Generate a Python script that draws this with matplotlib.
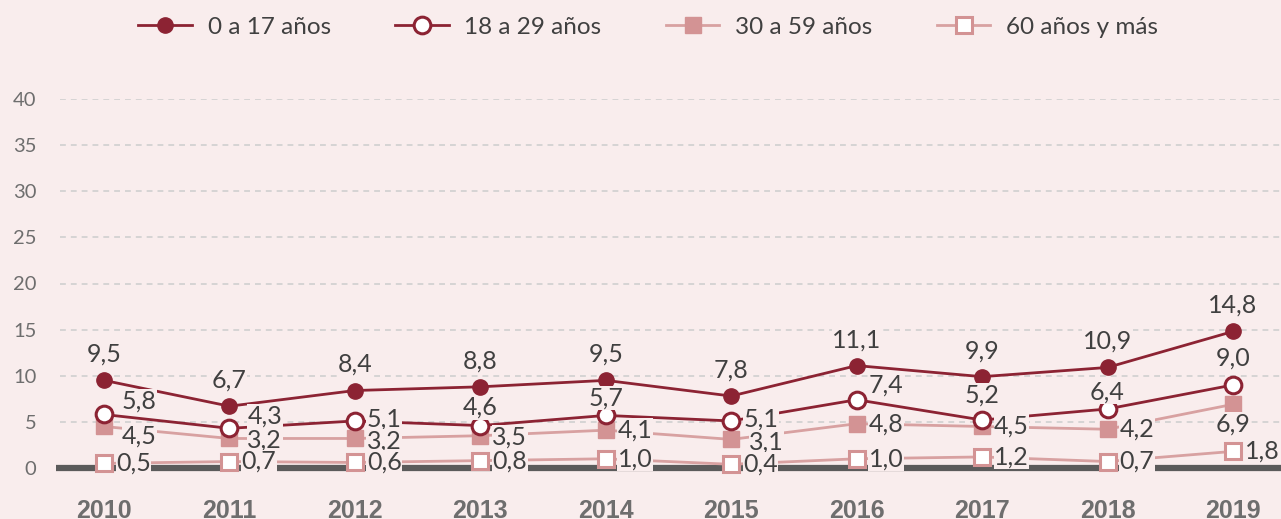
import matplotlib
matplotlib.use('Agg')
import matplotlib.pyplot as plt
from matplotlib.lines import Line2D

# ======================================================================
# Data
# ======================================================================

years = [2010, 2011, 2012, 2013, 2014, 2015, 2016, 2017, 2018, 2019]
series_names = ['0 a 17 años', '18 a 29 años', '30 a 59 años', '60 años y más']
age_0_17 = [9.5, 6.7, 8.4, 8.8, 9.5, 7.8, 11.1, 9.9, 10.9, 14.8]
age_18_29 = [5.8, 4.3, 5.1, 4.6, 5.7, 5.1, 7.4, 5.2, 6.4, 9.0]
age_30_59 = [4.5, 3.2, 3.2, 3.5, 4.1, 3.1, 4.8, 4.5, 4.2, 6.9]
age_60 = [0.5, 0.7, 0.6, 0.8, 1.0, 0.4, 1.0, 1.2, 0.7, 1.8]
yticks = [0, 5, 10, 15, 20, 25, 30, 35, 40]

# label offsets in pixels (dx, dy), dy positive = up
off_0_17 = [(0, 26)] * 10
off_18_29 = [(31, 13), (31, 12), (25, 2), (0, 18), (0, 17),
             (25, 2), (25, 15), (0, 25), (0, 17), (0, 27)]
off_30_59 = [(31, -10), (31, -2), (25, -3), (25, -1), (25, 0),
             (31, -3), (25, 0), (25, 0), (25, 0), (0, -20)]
off_60 = [(25, 0)] * 10

BG = '#f9eded'
DARK = '#8c2333'
PINK = '#d39394'
PINK_LINE = '#d8a1a1'
TXT = '#404040'

plt.rcParams['font.family'] = ['Lato', 'DejaVu Sans']

fig = plt.figure(figsize=(12.81, 5.19), dpi=100, facecolor=BG)
ax = fig.add_axes([60 / 1281, 51 / 519, 1221 / 1281, 369 / 519])
ax.set_facecolor(BG)
ax.set_xlim(2009.649, 2019.383)
ax.set_ylim(0, 40)

for y in yticks[1:]:
    ax.axhline(y, color='#cfcfcf', lw=1.2, dashes=(3.5, 3), zorder=1)
ax.plot([2009.62, 2019.383], [0, 0], color='#5b5b5b', lw=4.5,
        solid_capstyle='butt', zorder=2, clip_on=False)

styles = [
    dict(color=DARK, marker='o', ms=11, mfc=DARK, mec=DARK, lw=2.0),
    dict(color=DARK, marker='o', ms=12, mfc='white', mec=DARK, mew=2.2, lw=2.0),
    dict(color=PINK_LINE, marker='s', ms=12, mfc=PINK, mec=PINK, lw=2.0),
    dict(color=PINK_LINE, marker='s', ms=12, mfc='white', mec=PINK, mew=2.2, lw=2.0),
]
all_vals = [age_0_17, age_18_29, age_30_59, age_60]
all_offs = [off_0_17, off_18_29, off_30_59, off_60]

for i in range(3, -1, -1):
    ax.plot(years, all_vals[i], zorder=3 + (3 - i), clip_on=False, **styles[i])

for vals, offs in zip(all_vals, all_offs):
    for x, v, (dx, dy) in zip(years, vals, offs):
        ha = 'left' if dx > 5 else 'center'
        ax.annotate('{:.1f}'.format(v).replace('.', ','), (x, v),
                    xytext=(dx - 13 if ha == 'left' else dx, dy),
                    textcoords='offset pixels', ha=ha, va='center',
                    fontsize=18, color=TXT, zorder=10,
                    bbox=dict(boxstyle='square,pad=0.02', fc=BG, ec='none'))

ax.set_yticks(yticks)
ax.set_yticklabels([str(t) for t in yticks], color='#6e6e6e', fontsize=14.5)
ax.set_xticks(years)
ax.set_xticklabels([str(y) for y in years], color='#6e6e6e', fontsize=18,
                   fontweight='bold', family='Liberation Sans')
ax.tick_params(axis='y', length=0, pad=17)
ax.tick_params(axis='x', length=0, pad=22)
for s in ax.spines.values():
    s.set_visible(False)

handles = [Line2D([], [], **st) for st in styles]
fig.legend(handles, series_names, loc='upper center', ncol=4,
           bbox_to_anchor=(0.506, 1.01), frameon=False, fontsize=17.5,
           handlelength=2.2, columnspacing=2.65, handletextpad=0.65,
           labelcolor=TXT)

fig.savefig('out.png', dpi=100, facecolor=BG)
